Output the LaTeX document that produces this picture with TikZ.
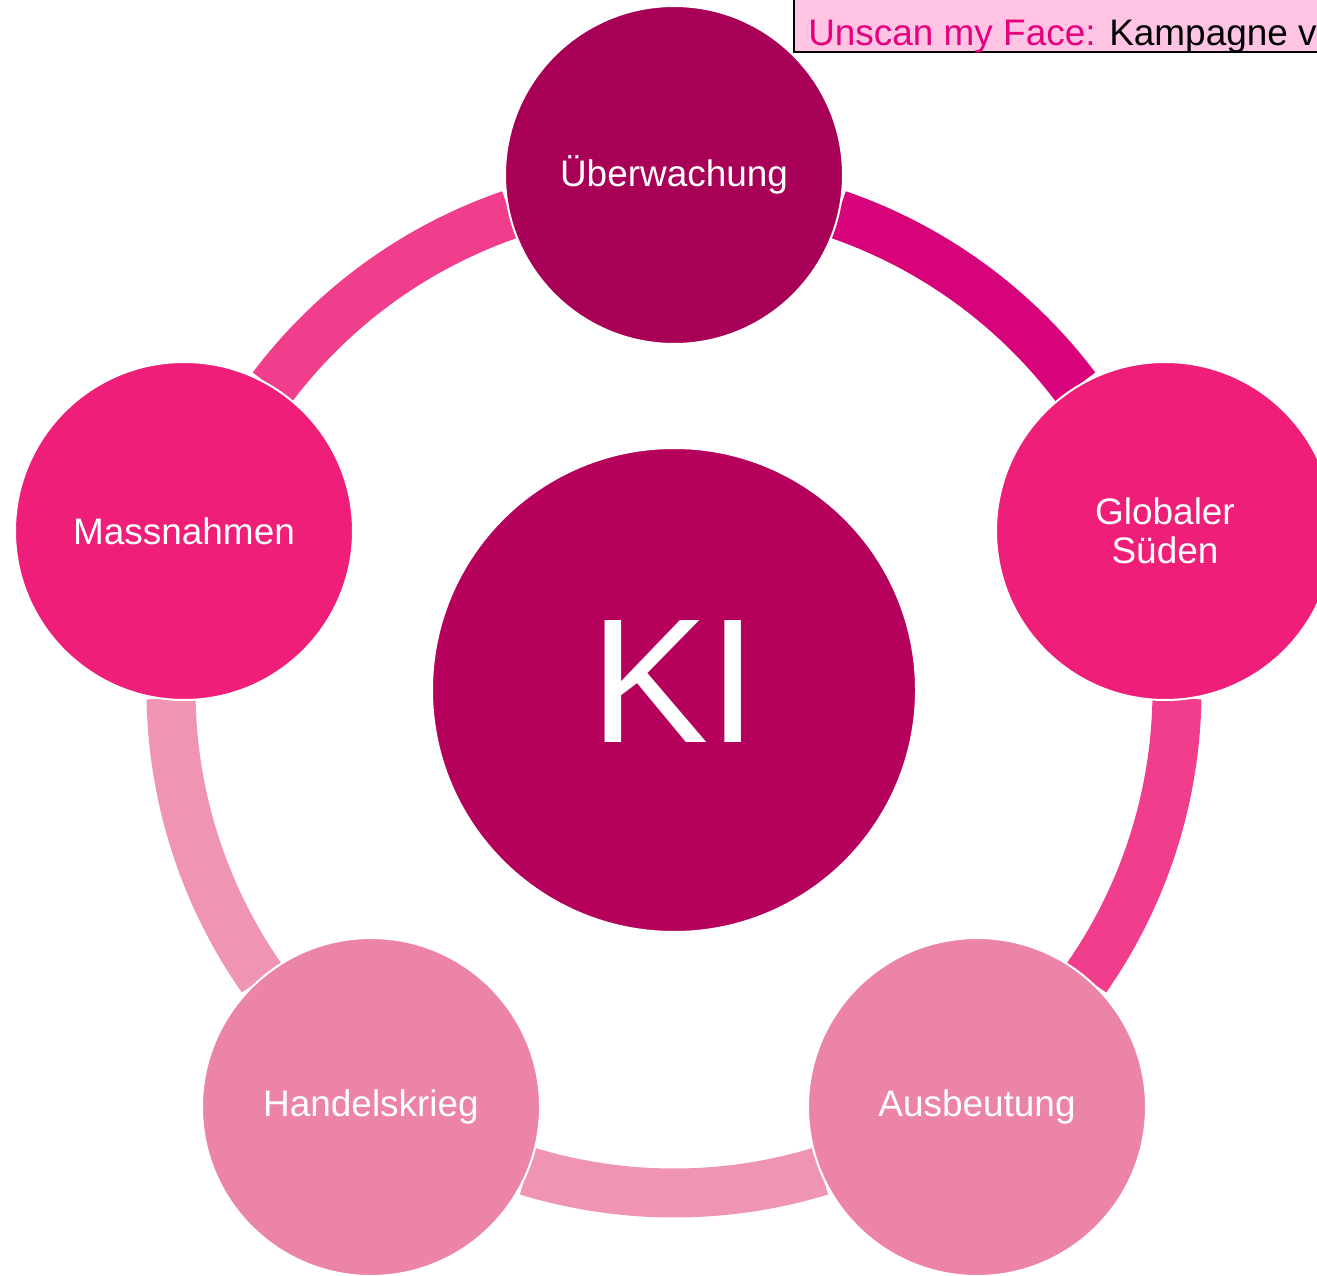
\documentclass[tikz,border=0pt]{standalone}
\usepackage{fontspec}
\setmainfont{Liberation Sans}
\definecolor{cUeb}{HTML}{A70056}
\definecolor{cKI}{HTML}{B5005C}
\definecolor{cMid}{HTML}{EF1F79}
\definecolor{cLight}{HTML}{EC83A8}
\definecolor{aDark}{HTML}{D7037A}
\definecolor{aMid}{HTML}{F03E8C}
\definecolor{aLight}{HTML}{EF95B2}
\definecolor{boxfill}{HTML}{FFC4E4}
\definecolor{magtext}{HTML}{E6007E}
\begin{document}
\begin{tikzpicture}[x=0.75pt,y=-0.75pt,
  bubble/.style={circle,draw=white,line width=1.5pt,minimum size=338*0.75pt,inner sep=0pt,
    text=white,font=\fontsize{27.7}{29.3}\selectfont,align=center},
  ring/.style={line width=36.75pt,line cap=butt}]
\useasboundingbox (0,0) rectangle (1317,1276);
% top box
\node[draw=black,fill=boxfill,line width=1.2pt,rectangle,minimum width=560*0.75pt,minimum height=70*0.75pt,anchor=south west,inner sep=0pt] (box) at (793,53) {};
\node[anchor=base west,inner sep=0pt,font=\fontsize{27.7}{32}\selectfont] (boxtxt) at (808,46) {\textcolor{magtext}{Unscan my Face:} Kampagne v};
% center
\coordinate (c) at (674,690);
% arcs (radius 503px = 377.25pt)
\draw[ring,aDark] ([shift={(37:377.25pt)}]c) arc (37:71:377.25pt);
\draw[ring,aMid] ([shift={(-35:377.25pt)}]c) arc (-35:-1:377.25pt);
\draw[ring,aLight] ([shift={(-107:377.25pt)}]c) arc (-107:-73:377.25pt);
\draw[ring,aLight] ([shift={(181:377.25pt)}]c) arc (181:215:377.25pt);
\draw[ring,aMid] ([shift={(109:377.25pt)}]c) arc (109:143:377.25pt);
% circles
\node[bubble,fill=cKI,minimum size=484*0.75pt] (ki) at (c) {};
\node[text=white,font=\fontsize{133}{133}\selectfont,inner sep=0pt] (kitxt) at (674,681) {KI};
\node[bubble,fill=cUeb] (ueb) at (674,175) {Überwachung};
\node[bubble,fill=cMid] (glob) at (1165,531) {Globaler\\Süden};
\node[bubble,fill=cLight] (ausb) at (977,1107) {Ausbeutung};
\node[bubble,fill=cLight] (hand) at (371,1107) {Handelskrieg};
\node[bubble,fill=cMid] (mass) at (184,531) {Massnahmen};
\end{tikzpicture}
\end{document}
